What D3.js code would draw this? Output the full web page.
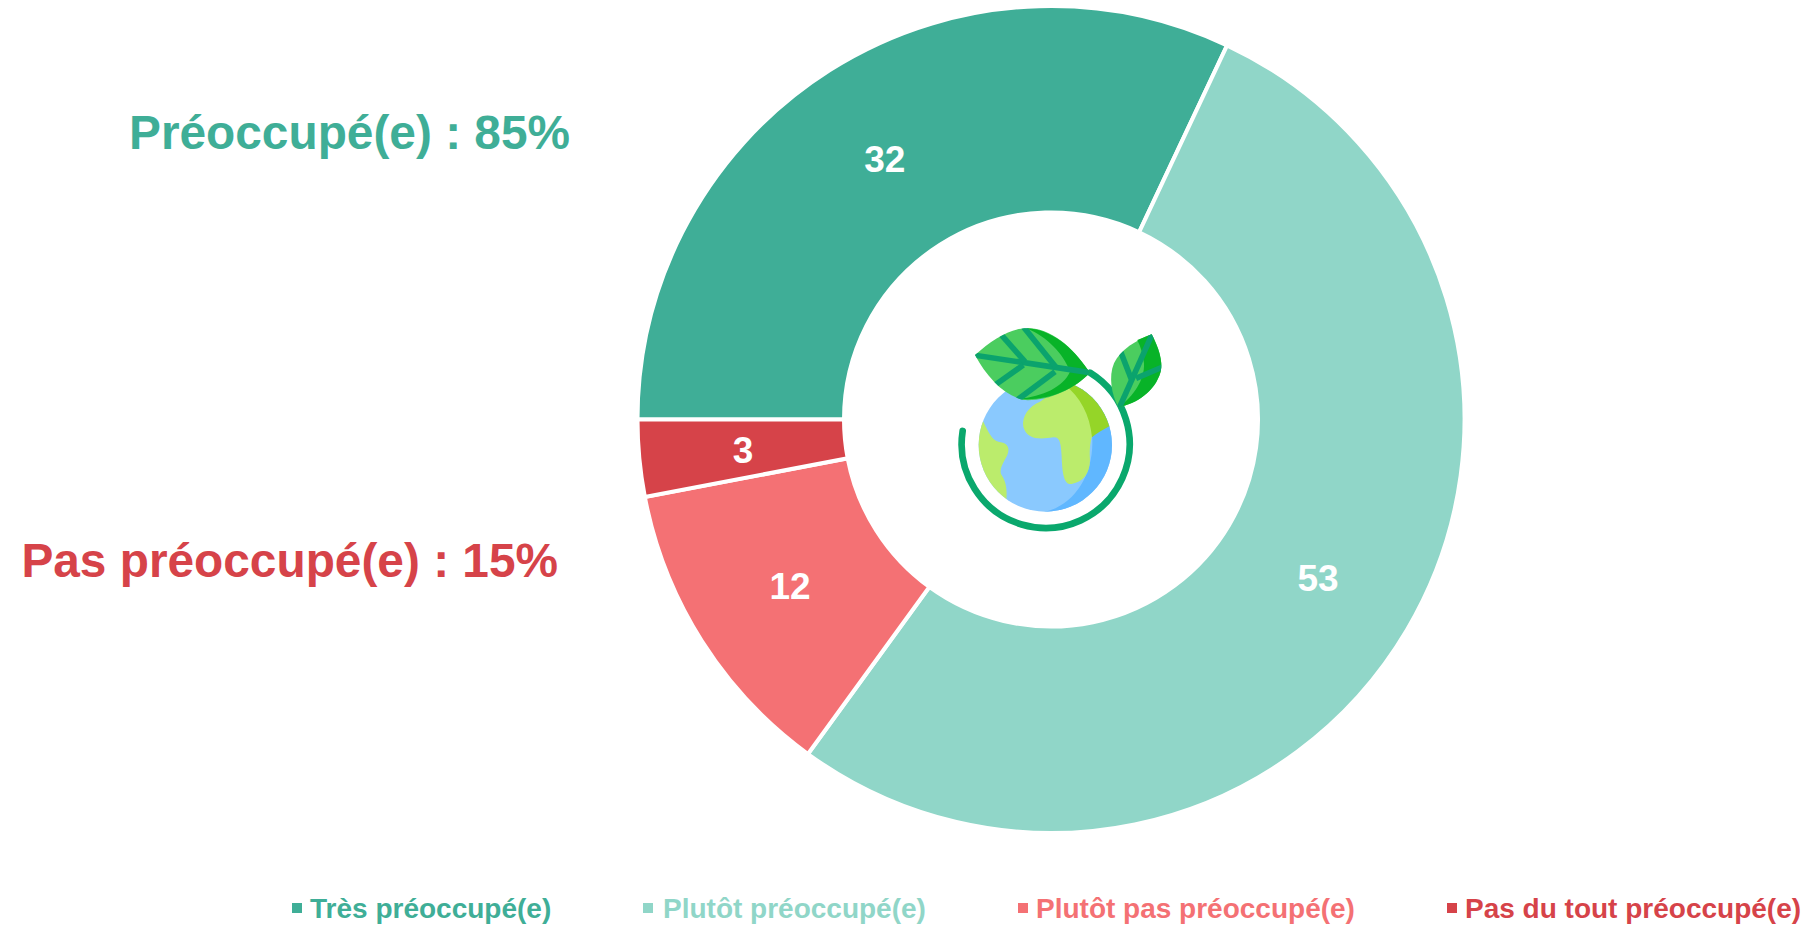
<!DOCTYPE html>
<html>
<head>
<meta charset="utf-8">
<title>Préoccupation</title>
<script src="https://cdn.jsdelivr.net/npm/d3@7"></script>
<style>
  html, body { margin: 0; padding: 0; background: #fff; overflow: hidden; }
  text { font-family: "Liberation Sans", Arial, sans-serif; font-weight: bold; }
</style>
</head>
<body>
<script>
// Chart data
var categories = ["Très préoccupé(e)", "Plutôt préoccupé(e)", "Plutôt pas préoccupé(e)", "Pas du tout préoccupé(e)"];
var values = [32, 53, 12, 3];
var colors = ["#3fae97", "#90d6c8", "#f47174", "#d64349"];
var summaryLabels = ["Préoccupé(e) : 85%", "Pas préoccupé(e) : 15%"];
var summaryColors = ["#3fae97", "#d64349"];

var svgWidth = 1808;
var svgHeight = 926;

var svg = d3.select("body")
  .append("svg")
  .attr("width", svgWidth)
  .attr("height", svgHeight)
  .style("display", "block");

var color = d3.scaleOrdinal().domain(categories).range(colors);

// Donut, first slice starts at 9 o'clock
var chartGroup = svg.append("g")
  .attr("transform", "translate(1051, 419.5)");

var pie = d3.pie()
  .sort(null)
  .startAngle(-Math.PI / 2)
  .endAngle(Math.PI * 1.5)
  .value(d => d.value);

var arc = d3.arc()
  .innerRadius(207)
  .outerRadius(413.5);

var slices = chartGroup.selectAll("g")
  .data(pie(categories.map((c, i) => ({ name: c, value: values[i] }))))
  .enter().append("g");

slices.append("path")
  .attr("d", arc)
  .attr("fill", d => color(d.data.name))
  .attr("stroke", "#fff")
  .attr("stroke-width", 4);

// small nudges so the labels land where they do in the original
var labelDx = [0, 0, 1, 1];
var labelDy = [1, 1, 0, 1];

slices.append("text")
  .attr("transform", (d, i) => {
    var c = arc.centroid(d);
    return `translate(${c[0] + labelDx[i]}, ${c[1] + labelDy[i]})`;
  })
  .attr("text-anchor", "middle")
  .attr("dy", ".35em")
  .attr("fill", "#fff")
  .attr("font-size", 37)
  .text(d => d.data.value);

// Summary text on the left
svg.selectAll(".summary")
  .data(summaryLabels)
  .enter().append("text")
  .attr("class", "summary")
  .attr("text-anchor", "end")
  .attr("x", (d, i) => [570, 558][i])
  .attr("y", (d, i) => [149, 577][i])
  .attr("fill", (d, i) => summaryColors[i])
  .attr("font-size", 47.8)
  .text(d => d);

// Legend along the bottom
var legendX = [292, 643, 1018, 1447];
var legendTextX = [18, 20, 18, 18];

var legend = svg.selectAll(".legend")
  .data(categories)
  .enter().append("g")
  .attr("class", "legend")
  .attr("transform", (d, i) => `translate(${legendX[i]}, 908)`);

legend.append("rect")
  .attr("y", -5)
  .attr("width", 10)
  .attr("height", 10)
  .attr("fill", d => color(d));

legend.append("text")
  .attr("x", (d, i) => legendTextX[i])
  .attr("dy", ".35em")
  .attr("fill", d => color(d))
  .attr("font-size", 28)
  .text(d => d);

// Globe icon in the middle, drawn in 3x units
var icon = svg.append("g")
  .attr("transform", "translate(930, 300) scale(0.3333)");

var bigLeaf = "M135,165 C190,115 250,80 300,85 C380,90 440,160 480,218 C430,270 350,305 280,300 C220,285 170,230 135,165 Z";
var smallLeaf = "M665,103 C685,140 700,185 692,215 C675,275 620,310 565,322 C545,285 535,230 552,190 C570,150 620,120 665,103 Z";

var defs = svg.append("defs");
defs.append("clipPath").attr("id", "globeClip")
  .append("circle").attr("cx", 346).attr("cy", 435).attr("r", 200);
defs.append("clipPath").attr("id", "leafClip")
  .selectAll("path").data([bigLeaf, smallLeaf]).enter().append("path").attr("d", d => d);

var globe = icon.append("g").attr("clip-path", "url(#globeClip)");
globe.append("rect").attr("x", 140).attr("y", 230).attr("width", 410).attr("height", 410).attr("fill", "#8ac9fe");
globe.append("path").attr("fill", "#60b7ff")
  .attr("d", "M320,640 C420,630 490,540 487,420 C484,350 450,290 410,250 L560,250 L560,650 Z");
globe.append("path").attr("fill", "#bbec6c")
  .attr("d", "M140,340 L160,365 C175,395 185,420 205,425 C235,428 240,445 232,465 C222,485 208,505 213,522 C228,545 232,565 229,600 L130,600 Z");
globe.append("path").attr("fill", "#bbec6c")
  .attr("d", "M420,240 L330,305 C295,320 275,350 280,380 C290,415 320,420 370,412 C390,410 393,430 395,470 C397,530 405,555 425,552 C460,545 480,520 480,480 C478,450 480,430 486,410 L500,330 Z");
globe.append("path").attr("fill", "#95d528")
  .attr("d", "M405,255 C450,290 480,345 486,412 C500,400 520,388 545,375 L560,250 Z");

icon.append("path")
  .attr("d", "M98,393 A252,252 0 1 0 480,218")
  .attr("fill", "none")
  .attr("stroke", "#0aa86d")
  .attr("stroke-width", 20)
  .attr("stroke-linecap", "round");

icon.append("path").attr("fill", "#4bcd5f").attr("d", bigLeaf);
icon.append("path").attr("fill", "#08b328")
  .attr("d", "M290,85 C380,90 440,160 480,218 C430,270 350,305 265,296 C340,290 400,260 420,215 C400,160 350,110 290,85 Z");
icon.append("path").attr("fill", "#4bcd5f").attr("d", smallLeaf);
icon.append("path").attr("fill", "#08b328")
  .attr("d", "M665,103 C685,140 700,185 692,215 C675,275 620,310 565,322 C610,290 645,240 642,190 C640,165 632,140 622,120 Z");

var veins = [
  "M130,165 L480,218", "M285,185 L210,100", "M378,202 L280,80", "M280,195 L195,255", "M375,215 L255,305",
  "M670,95 L565,330", "M605,240 L568,145", "M618,235 L705,198"
];
icon.append("g")
  .attr("clip-path", "url(#leafClip)")
  .selectAll("path")
  .data(veins)
  .enter().append("path")
  .attr("d", d => d)
  .attr("fill", "none")
  .attr("stroke", "#0ba36d")
  .attr("stroke-width", 17);
</script>
</body>
</html>
